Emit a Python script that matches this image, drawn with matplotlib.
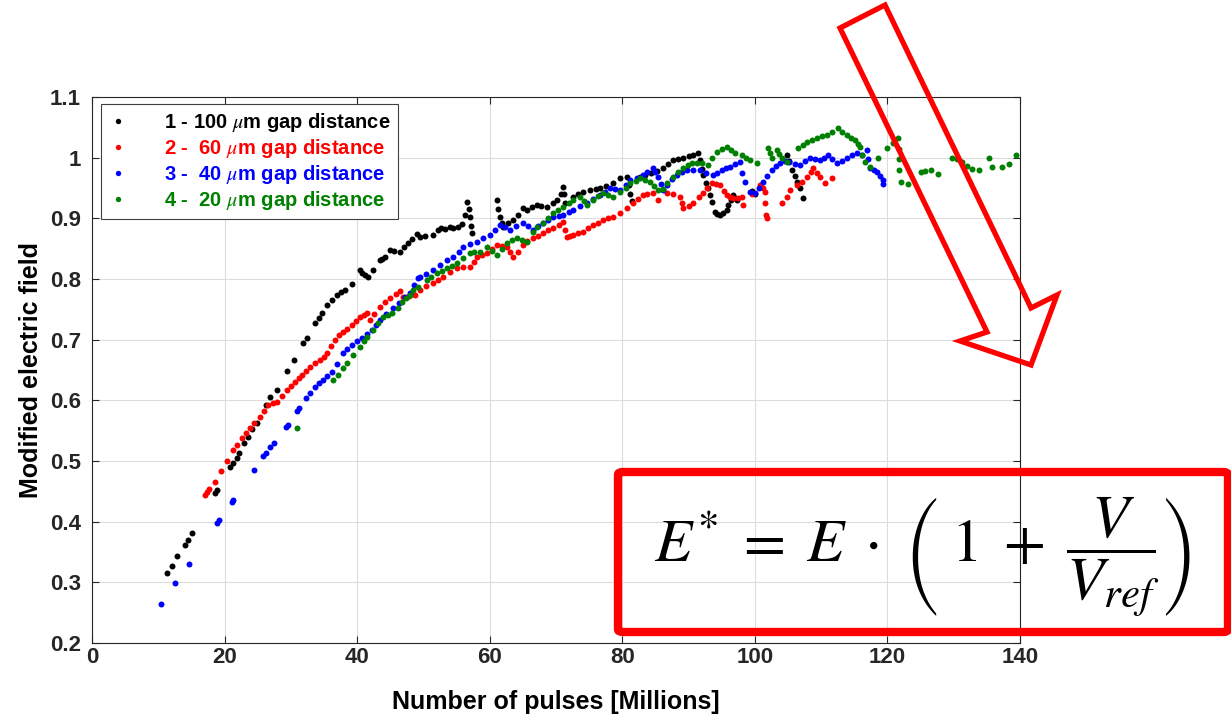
import matplotlib
matplotlib.use('Agg')
import matplotlib.pyplot as plt
from matplotlib.patches import Polygon, FancyBboxPatch

plt.rcParams['font.family'] = ['Liberation Sans', 'DejaVu Sans']
plt.rcParams['mathtext.fontset'] = 'stix'

# 1 - 100 um gap
x_100 = [11.3, 12.1, 12.8, 14.0, 14.5, 15.1, 18.6, 18.9, 20.8, 21.3, 21.8, 22.2,
         23.0, 23.5, 24.2, 24.9, 26.2, 26.9, 27.9, 29.4, 30.5, 31.8, 32.4, 33.6,
         34.2, 34.7, 35.4, 36.2, 37.0, 37.6, 38.2, 39.2, 40.4, 40.8, 41.2, 41.6,
         42.4, 43.4, 43.8, 44.2, 45.0, 45.6, 46.5, 47.0, 47.7, 48.3, 49.0, 49.5,
         50.3, 51.4, 52.2, 52.6, 53.2, 54.0, 54.5, 55.2, 55.8, 56.3, 56.6, 56.9,
         57.0, 57.2, 57.3, 61.1, 61.3, 61.5, 61.8, 62.0, 62.8, 63.5, 64.3, 65.0,
         65.6, 66.4, 67.1, 67.8, 68.6, 69.6, 70.2, 70.8, 71.1, 71.2, 71.4, 72.5,
         73.3, 74.1, 75.1, 76.0, 76.6, 77.6, 78.6, 79.7, 80.7, 81.0, 81.2, 81.4,
         82.7, 83.5, 84.3, 85.3, 86.1, 86.9, 87.6, 88.4, 89.2, 90.0, 90.7, 91.4,
         91.7, 92.0, 92.2, 92.6, 92.9, 93.2, 93.5, 94.0, 94.3, 94.7, 95.2, 95.8,
         96.0, 96.4, 96.7, 97.0, 97.3, 99.5, 100.0, 104.8, 105.2, 105.6, 106.0,
         106.4, 106.8, 107.3]
y_100 = [0.315, 0.327, 0.343, 0.361, 0.370, 0.381, 0.447, 0.452, 0.490, 0.497, 0.505, 0.513,
         0.530, 0.540, 0.552, 0.563, 0.592, 0.605, 0.617, 0.648, 0.666, 0.695, 0.703, 0.727,
         0.735, 0.744, 0.757, 0.765, 0.774, 0.778, 0.782, 0.792, 0.815, 0.810, 0.806, 0.803,
         0.815, 0.831, 0.833, 0.836, 0.848, 0.846, 0.845, 0.853, 0.859, 0.866, 0.875, 0.869,
         0.871, 0.873, 0.880, 0.884, 0.883, 0.886, 0.884, 0.886, 0.890, 0.905, 0.927, 0.915,
         0.902, 0.888, 0.876, 0.930, 0.915, 0.902, 0.893, 0.886, 0.893, 0.898, 0.905, 0.917,
         0.914, 0.918, 0.922, 0.921, 0.919, 0.925, 0.930, 0.940, 0.952, 0.940, 0.925, 0.935,
         0.940, 0.944, 0.947, 0.948, 0.950, 0.954, 0.958, 0.966, 0.968, 0.955, 0.940, 0.928,
         0.968, 0.972, 0.975, 0.978, 0.983, 0.990, 0.996, 0.998, 1.000, 1.002, 1.004, 1.008,
         0.996, 0.982, 0.971, 0.958, 0.950, 0.938, 0.927, 0.910, 0.907, 0.905, 0.908, 0.914,
         0.922, 0.930, 0.938, 0.934, 0.930, 0.945, 0.940, 1.004, 0.995, 0.980, 0.970,
         0.960, 0.950, 0.933]

# 2 - 60 um gap
x_60 = [17.0, 17.4, 17.7, 18.6, 19.5, 20.3, 21.3, 21.8, 22.6, 23.2, 23.8, 24.5,
        25.3, 26.0, 26.6, 27.3, 27.9, 28.6, 29.4, 30.0, 30.6, 31.2, 31.7, 32.3,
        32.9, 33.6, 34.4, 35.0, 35.4, 36.1, 36.7, 37.3, 37.9, 38.5, 39.2, 39.8,
        40.4, 41.0, 41.5, 41.9, 42.6, 43.4, 44.2, 45.0, 45.8, 46.5, 46.9, 47.8,
        48.7, 49.5, 50.4, 51.4, 52.2, 53.0, 54.0, 55.1, 56.0, 57.0, 57.6, 58.1,
        58.8, 59.6, 60.4, 61.1, 61.8, 62.6, 63.1, 63.5, 64.2, 65.0, 65.7, 66.5,
        67.3, 68.0, 68.8, 69.6, 70.4, 71.1, 71.4, 71.6, 72.1, 72.6, 73.3, 74.1,
        74.8, 75.6, 76.3, 77.1, 77.8, 78.6, 79.6, 80.7, 81.6, 82.3, 83.1, 83.8,
        84.6, 85.4, 86.7, 87.7, 88.7, 89.0, 89.2, 90.0, 90.7, 91.5, 92.2, 92.8,
        93.5, 94.1, 94.7, 95.3, 95.8, 96.2, 96.7, 97.4, 98.1, 98.2, 99.5, 100.8,
        101.2, 101.5, 101.6, 101.7, 101.8, 104.1, 104.8, 105.3, 106.3, 107.1, 107.9,
        108.4, 108.8, 109.3, 109.8, 110.6, 111.6]
y_60 = [0.444, 0.449, 0.454, 0.465, 0.483, 0.500, 0.518, 0.527, 0.538, 0.546, 0.554, 0.563,
        0.572, 0.582, 0.592, 0.595, 0.597, 0.607, 0.617, 0.624, 0.630, 0.637, 0.642, 0.648,
        0.655, 0.661, 0.666, 0.672, 0.678, 0.690, 0.700, 0.707, 0.713, 0.718, 0.724, 0.731,
        0.737, 0.741, 0.744, 0.732, 0.742, 0.754, 0.762, 0.769, 0.776, 0.780, 0.770, 0.772,
        0.774, 0.782, 0.788, 0.793, 0.798, 0.803, 0.811, 0.818, 0.819, 0.820, 0.828, 0.836,
        0.840, 0.843, 0.849, 0.856, 0.855, 0.853, 0.845, 0.836, 0.845, 0.856, 0.862, 0.867,
        0.871, 0.876, 0.880, 0.884, 0.889, 0.894, 0.880, 0.869, 0.871, 0.873, 0.876, 0.878,
        0.884, 0.889, 0.893, 0.897, 0.900, 0.902, 0.909, 0.917, 0.925, 0.932, 0.938, 0.940,
        0.942, 0.930, 0.942, 0.940, 0.935, 0.925, 0.917, 0.920, 0.925, 0.935, 0.942, 0.950,
        0.958, 0.957, 0.955, 0.945, 0.938, 0.935, 0.933, 0.934, 0.935, 0.922, 0.940, 0.955,
        0.950, 0.943, 0.925, 0.905, 0.900, 0.925, 0.935, 0.947, 0.955, 0.960, 0.968,
        0.976, 0.983, 0.975, 0.968, 0.958, 0.966]

# 3 - 40 um gap
x_40 = [10.4, 12.5, 14.6, 18.9, 19.1, 21.1, 21.3, 24.4, 25.8, 26.2, 26.9, 27.4,
        29.3, 29.6, 30.9, 31.3, 32.3, 32.9, 33.6, 34.2, 34.8, 35.5, 36.2, 37.0,
        37.9, 38.5, 39.2, 40.0, 40.7, 41.5, 42.2, 42.8, 43.4, 44.4, 45.4, 46.3,
        47.2, 48.0, 48.6, 49.2, 49.5, 50.4, 51.4, 52.5, 53.6, 54.5, 55.3, 56.0,
        57.0, 58.1, 59.0, 60.0, 60.8, 61.5, 62.3, 63.1, 64.0, 65.0, 65.8, 66.5,
        67.3, 68.0, 68.8, 69.6, 70.4, 71.1, 71.9, 72.6, 73.6, 74.7, 75.6, 76.6,
        77.4, 78.1, 78.9, 79.7, 80.5, 81.2, 82.2, 83.1, 83.8, 84.6, 85.0, 85.4,
        85.8, 86.1, 86.8, 87.5, 88.2, 89.0, 89.8, 90.7, 91.7, 92.7, 93.7, 94.3,
        95.0, 95.6, 96.2, 97.0, 97.8, 98.1, 98.5, 99.3, 100.0, 100.6, 101.2, 101.9,
        102.6, 103.2, 103.8, 104.5, 105.2, 106.0, 106.8, 107.5, 108.3, 109.0, 109.8,
        110.4, 111.0, 111.7, 112.4, 113.2, 113.9, 114.6, 115.4, 116.2, 116.9, 117.1,
        117.4, 117.9, 118.4, 118.9, 119.3, 119.4]
y_40 = [0.264, 0.299, 0.330, 0.398, 0.402, 0.432, 0.436, 0.485, 0.508, 0.514, 0.523, 0.530,
        0.556, 0.560, 0.582, 0.588, 0.604, 0.612, 0.622, 0.628, 0.633, 0.640, 0.647, 0.660,
        0.678, 0.685, 0.691, 0.697, 0.703, 0.710, 0.716, 0.724, 0.732, 0.742, 0.752, 0.760,
        0.770, 0.777, 0.790, 0.802, 0.803, 0.809, 0.815, 0.823, 0.831, 0.836, 0.845, 0.853,
        0.857, 0.861, 0.867, 0.873, 0.881, 0.889, 0.885, 0.881, 0.887, 0.892, 0.887, 0.881,
        0.887, 0.892, 0.897, 0.902, 0.904, 0.906, 0.910, 0.914, 0.920, 0.925, 0.932, 0.938,
        0.944, 0.950, 0.948, 0.947, 0.955, 0.963, 0.967, 0.971, 0.976, 0.983, 0.976, 0.968,
        0.957, 0.947, 0.955, 0.965, 0.971, 0.976, 0.980, 0.980, 0.980, 0.975, 0.971, 0.975,
        0.980, 0.983, 0.985, 0.989, 0.993, 0.975, 0.960, 0.943, 0.942, 0.950, 0.960, 0.970,
        0.980, 0.986, 0.991, 0.995, 0.993, 0.990, 0.988, 0.994, 1.000, 0.998, 0.996,
        1.000, 1.004, 0.997, 0.991, 0.995, 1.000, 1.004, 1.008, 1.005, 1.013, 0.998,
        0.983, 0.980, 0.977, 0.970, 0.963, 0.957]

# 4 - 20 um gap
x_20 = [30.9, 36.4, 37.1, 37.9, 38.5, 39.4, 40.4, 41.0, 41.5, 42.4, 43.1, 43.9,
        44.6, 45.3, 46.1, 46.8, 47.4, 48.0, 48.4, 49.2, 50.5, 51.2, 52.0, 52.8,
        53.6, 54.3, 55.1, 56.0, 57.0, 57.7, 58.5, 59.6, 60.3, 61.1, 61.8, 62.6,
        63.4, 64.1, 64.9, 65.6, 66.5, 67.2, 68.0, 68.8, 69.6, 70.3, 71.1, 71.9,
        72.6, 73.6, 74.2, 74.7, 75.6, 76.4, 77.1, 77.8, 78.6, 79.7, 80.5, 81.2,
        82.0, 82.7, 83.5, 84.2, 84.8, 85.4, 86.1, 86.8, 87.6, 88.4, 89.2, 89.9,
        90.5, 91.2, 92.0, 92.9, 93.6, 94.3, 95.0, 95.8, 96.4, 97.0, 98.1, 98.7,
        99.3, 100.3, 102.0, 102.3, 102.6, 103.3, 103.7, 104.1, 104.8, 106.5, 107.2,
        107.9, 108.6, 109.4, 110.2, 110.9, 111.7, 112.5, 113.2, 113.9, 114.5, 115.1,
        115.5, 115.9, 116.2, 116.6, 117.4, 118.6, 119.9, 120.8, 121.6, 121.7, 121.7,
        121.8, 122.0, 123.1, 125.1, 125.6, 126.6, 127.6, 129.7, 130.5, 131.2, 132.0,
        132.7, 133.8, 135.3, 135.8, 137.3, 138.3, 139.4]
y_20 = [0.554, 0.633, 0.642, 0.653, 0.662, 0.675, 0.688, 0.697, 0.705, 0.716, 0.727, 0.737,
        0.741, 0.744, 0.753, 0.762, 0.768, 0.774, 0.782, 0.787, 0.798, 0.804, 0.810, 0.814,
        0.818, 0.822, 0.826, 0.834, 0.843, 0.845, 0.845, 0.853, 0.846, 0.840, 0.850, 0.860,
        0.864, 0.867, 0.864, 0.861, 0.878, 0.885, 0.892, 0.900, 0.909, 0.914, 0.919, 0.925,
        0.930, 0.935, 0.928, 0.922, 0.930, 0.936, 0.942, 0.938, 0.935, 0.943, 0.950, 0.958,
        0.962, 0.966, 0.963, 0.960, 0.953, 0.947, 0.949, 0.958, 0.968, 0.976, 0.983, 0.988,
        0.991, 0.991, 0.991, 0.988, 1.000, 1.010, 1.014, 1.018, 1.013, 1.008, 1.004, 1.000,
        0.996, 0.991, 1.016, 1.008, 1.000, 1.013, 1.006, 1.000, 0.993, 1.016, 1.021,
        1.026, 1.029, 1.032, 1.035, 1.037, 1.043, 1.049, 1.043, 1.037, 1.033, 1.029,
        1.023, 1.018, 1.005, 0.993, 0.985, 1.000, 1.016, 1.024, 1.032, 1.015, 0.998,
        0.980, 0.960, 0.957, 0.976, 0.978, 0.980, 0.973, 1.000, 0.997, 0.993, 0.987,
        0.981, 0.980, 1.000, 0.985, 0.985, 0.990, 1.004]

labels = [r'1 - 100 $\mu$m gap distance', r'2 -  60 $\mu$m gap distance',
          r'3 -  40 $\mu$m gap distance', r'4 -  20 $\mu$m gap distance']
colors = ['black', '#ff0000', '#0000ff', '#008000']

W, H = 1231, 717
fig = plt.figure(figsize=(W / 100, H / 100), dpi=100)
ax = fig.add_axes([92 / W, 1 - 643 / H, 928 / W, 546 / H])

for xs, ys, c, lab in zip([x_100, x_60, x_40, x_20], [y_100, y_60, y_40, y_20], colors, labels):
    ax.plot(xs, ys, 'o', color=c, ms=4.3, mec='none', label=lab)

ax.set_xlim(0, 140)
ax.set_ylim(0.2, 1.1)
ax.set_xticks(range(0, 141, 20))
ax.set_yticks([0.2, 0.3, 0.4, 0.5, 0.6, 0.7, 0.8, 0.9, 1.0, 1.1])
ax.set_yticklabels(['0.2', '0.3', '0.4', '0.5', '0.6', '0.7', '0.8', '0.9', '1', '1.1'])
ax.grid(True, color='#dcdcdc', lw=0.8)
ax.set_axisbelow(True)
ax.tick_params(direction='in', length=5, width=0.8, colors='#262626', labelsize=16,
               top=True, right=True)
ax.tick_params(axis='y', pad=8)
ax.tick_params(axis='x', pad=3)
for lbl in ax.get_xticklabels() + ax.get_yticklabels():
    lbl.set_fontweight('bold')
for sp in ax.spines.values():
    sp.set_color('#262626')
    sp.set_linewidth(0.8)

ax.set_xlabel('Number of pulses [Millions]', fontsize=18, fontweight='bold', labelpad=16)
ax.set_ylabel('Modified electric field', fontsize=18, fontweight='bold', labelpad=5)

leg = ax.legend(loc='upper left', bbox_to_anchor=(9 / 928, 1 - 7 / 546), borderaxespad=0,
                prop={'weight': 'bold', 'size': 14.5}, labelcolor='linecolor',
                fancybox=False, framealpha=1, edgecolor='#404040', handlelength=1.0,
                handletextpad=1.8, labelspacing=0.15, borderpad=0.35, markerscale=0.9)
leg.get_frame().set_linewidth(0.8)

# red hollow arrow overlay (figure pixels)
arrow_px = [(840, 28), (885, 5), (1031, 308), (1057, 295), (1031, 365), (960, 341), (987, 332)]
fig.patches.append(Polygon([(x / W, 1 - y / H) for x, y in arrow_px], closed=True,
                           fill=False, ec='#ff0000', lw=3.8, joinstyle='miter',
                           transform=fig.transFigure, figure=fig))

# red box with formula
box = FancyBboxPatch((618 / W, 1 - 632 / H), 610 / W, 160 / H,
                     boxstyle='round,pad=0,rounding_size=0.004', fill=False,
                     ec='#ff0000', lw=6, transform=fig.transFigure, figure=fig)
fig.patches.append(box)
fig.text(922 / W, 1 - 557 / H,
         r'$E^{*} \;=\; E \;\cdot\; \left(\;1 \;+\; \dfrac{V}{V_{ref}}\right)$',
         fontsize=44, ha='center', va='center', color='black')

fig.savefig('out.png', dpi=100)
